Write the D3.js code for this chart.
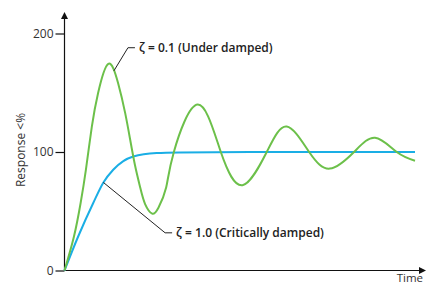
<!DOCTYPE html>
<html>
<head>
<meta charset="utf-8">
<script src="https://cdn.jsdelivr.net/npm/d3@7"></script>
<style>
  body { margin: 0; background: #fff; }
  svg text { font-family: "Open Sans", sans-serif; }
</style>
</head>
<body>
<div class="chart"></div>
<script>
// Data (time in arbitrary units, response in %)
const underTime  = [0, 0.27, 0.46, 0.61, 0.78, 0.96, 1.25, 1.53, 1.73, 1.87, 2.01, 2.16, 2.30, 2.50, 2.68, 2.90, 3.12, 3.80, 4.46, 5.08, 5.77, 6.34, 6.98, 7.57, 8.26, 8.86, 9.48, 10]
const underValue = [0, 28.7, 57, 85, 121.5, 150, 174.4, 158, 133, 111, 89, 70, 56, 48, 53, 70, 100, 140, 100, 72, 100, 121.5, 100, 86, 100, 112, 100, 92.6]

const critTime  = [0, 0.39, 0.82, 1.11, 1.39, 1.96, 2.63, 3.30, 5.29, 10]
const critValue = [0, 28.7, 57, 74.3, 85, 96.2, 99.1, 99.6, 100, 100]

const yTicks = [0, 100, 200]

// annotation: anchor on curve, elbow, end of leader (data units)
const underNote = { label: 'ζ = 0.1 (Under damped)', pts: [[1.41, 168.5], [1.81, 188], [2.01, 188]] }
const critNote  = { label: 'ζ = 1.0 (Critically damped)', pts: [[1.11, 74.3], [2.87, 31.8], [3.07, 31.8]] }

// Dimensions
const dimensions = { width: 426, height: 285 }

const svg = d3.select('.chart')
    .append('svg')
    .attr('width', dimensions.width)
    .attr('height', dimensions.height)

const xScale = d3.scaleLinear()
    .domain([0, 10])
    .range([64.5, 415])

const yScale = d3.scaleLinear()
    .domain([0, 200])
    .range([270.5, 33.5])

// Axes
const axisColor = '#111'
svg.append('line')
    .attr('x1', xScale(0)).attr('y1', yScale(0))
    .attr('x2', xScale(0)).attr('y2', 18)
    .attr('stroke', axisColor).attr('stroke-width', 1.2)
svg.append('path')
    .attr('d', `M${xScale(0)},12 L${xScale(0) - 3.5},19 L${xScale(0) + 3.5},19 Z`)
    .attr('fill', axisColor)

svg.append('line')
    .attr('x1', xScale(0)).attr('y1', yScale(0))
    .attr('x2', 420).attr('y2', yScale(0))
    .attr('stroke', axisColor).attr('stroke-width', 1.2)
svg.append('path')
    .attr('d', `M426,${yScale(0)} L419,${yScale(0) - 3.5} L419,${yScale(0) + 3.5} Z`)
    .attr('fill', axisColor)

const yAxis = d3.axisLeft(yScale)
    .tickValues(yTicks)
    .tickSize(9)
    .tickPadding(2)

const yAxisGroup = svg.append('g')
    .attr('transform', `translate(${xScale(0)},0)`)
    .call(yAxis)
yAxisGroup.select('.domain').remove()
yAxisGroup.selectAll('line').attr('stroke', axisColor).attr('stroke-width', 1.2)
yAxisGroup.selectAll('text')
    .attr('fill', '#333')
    .style('font-size', '12px')
    .style('font-family', '"Open Sans", sans-serif')

svg.append('text')
    .attr('transform', `translate(25,150) rotate(-90)`)
    .attr('text-anchor', 'middle')
    .attr('fill', '#333')
    .style('font-size', '12px')
    .text('Response <%')

svg.append('text')
    .attr('x', 423)
    .attr('y', 281.5)
    .attr('text-anchor', 'end')
    .attr('fill', '#333')
    .style('font-size', '11.5px')
    .text('Time')

// Curves
const line = d3.line()
    .x(d => xScale(d[0]))
    .y(d => yScale(d[1]))

svg.append('path')
    .datum(critTime.map((t, i) => [t, critValue[i]]))
    .attr('d', line.curve(d3.curveMonotoneX))
    .attr('fill', 'none')
    .attr('stroke', '#1aaee5')
    .attr('stroke-width', 2)

svg.append('path')
    .datum(underTime.map((t, i) => [t, underValue[i]]))
    .attr('d', line.curve(d3.curveNatural))
    .attr('fill', 'none')
    .attr('stroke', '#6cc04a')
    .attr('stroke-width', 2)

// Annotations
const leader = d3.line()
    .x(d => xScale(d[0]))
    .y(d => yScale(d[1]))

;[underNote, critNote].forEach(note => {
    svg.append('path')
        .attr('d', leader(note.pts))
        .attr('fill', 'none')
        .attr('stroke', '#222')
        .attr('stroke-width', 1)
    const end = note.pts[note.pts.length - 1]
    svg.append('text')
        .attr('x', xScale(end[0]) + 4)
        .attr('y', yScale(end[1]))
        .attr('dy', '0.35em')
        .attr('fill', '#222')
        .style('font-size', '12px')
        .style('font-weight', 600)
        .text(note.label)
})
</script>
</body>
</html>
